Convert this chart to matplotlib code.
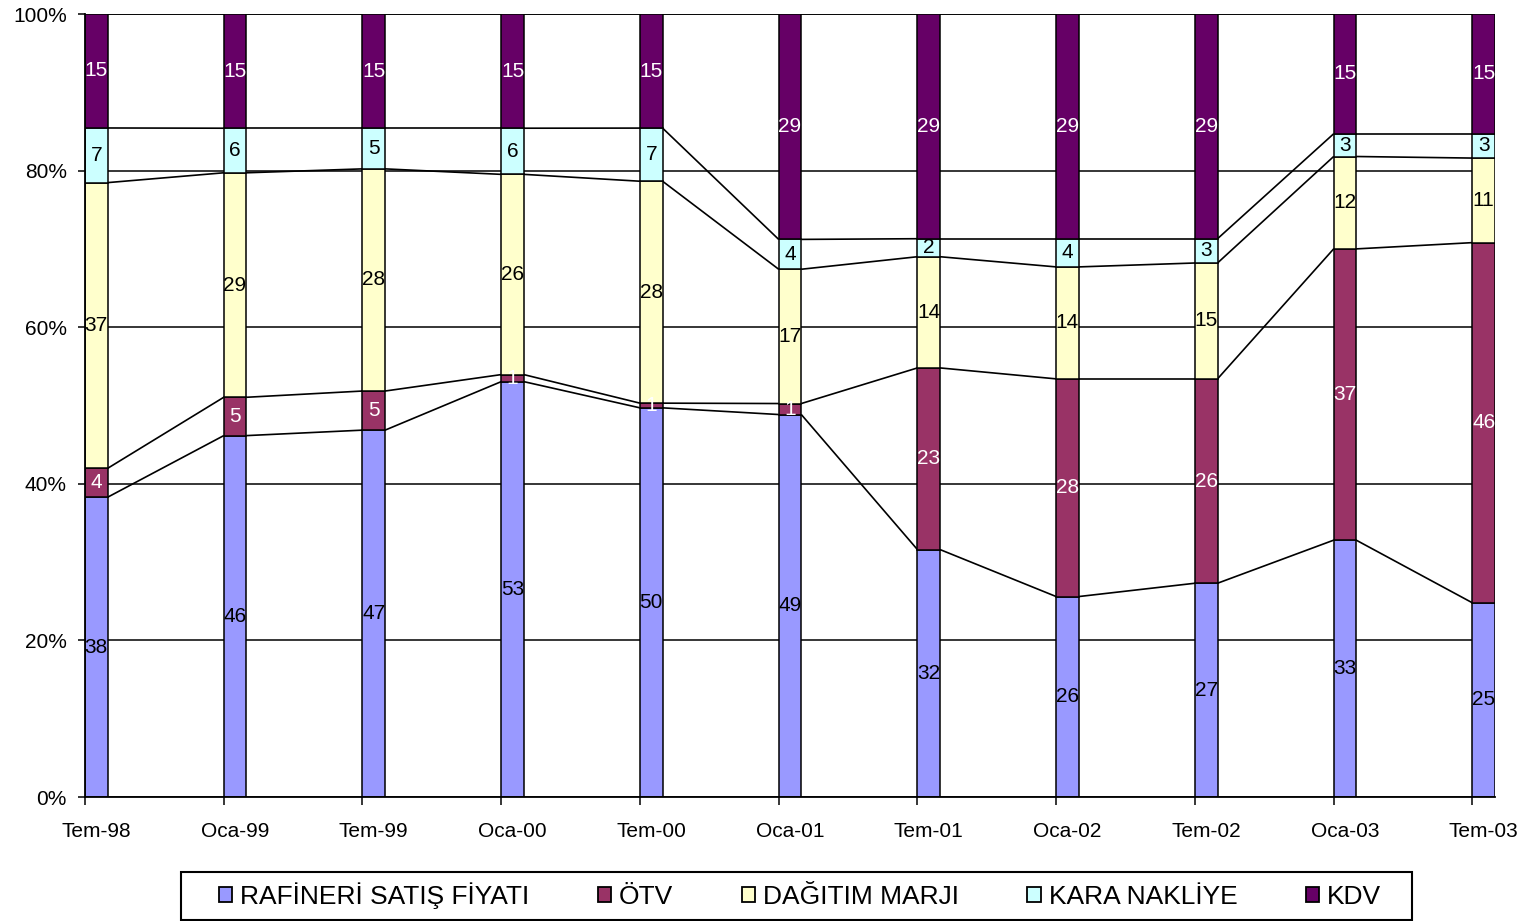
import numpy as np
import matplotlib
matplotlib.use("Agg")
import matplotlib.pyplot as plt
from matplotlib.patches import Rectangle
from matplotlib.ticker import FixedLocator, FuncFormatter

plt.rcParams['font.family'] = ['Liberation Sans', 'DejaVu Sans']

# ---- data ----
categories = ["Tem-98", "Oca-99", "Tem-99", "Oca-00", "Tem-00", "Oca-01",
              "Tem-01", "Oca-02", "Tem-02", "Oca-03", "Tem-03"]
series_names = ["RAFİNERİ SATIŞ FİYATI", "ÖTV", "DAĞITIM MARJI", "KARA NAKLİYE", "KDV"]
rafineri = [38.4, 46.2, 46.9, 53.1, 49.8, 48.7, 31.6, 25.6, 27.3, 32.8, 24.8]
otv      = [3.7, 4.9, 5.0, 0.9, 0.6, 1.4, 23.2, 27.8, 26.1, 37.2, 46.0]
dagitim  = [36.6, 28.7, 28.4, 25.6, 28.4, 17.1, 14.2, 14.3, 14.8, 11.8, 10.8]
kara     = [7.0, 5.7, 5.2, 5.9, 6.8, 3.8, 2.3, 3.6, 3.1, 2.9, 3.1]
kdv      = [14.6, 14.6, 14.6, 14.6, 14.6, 28.7, 28.7, 28.7, 28.7, 15.3, 15.3]

colors = ["#9999FF", "#993366", "#FFFFCC", "#CCFFFF", "#660066"]
label_colors = ["black", "white", "black", "black", "white"]

data = np.array([rafineri, otv, dagitim, kara, kdv], dtype=float)
totals = data.sum(axis=0)
shares = data / totals * 100.0

W, H = 1532, 921
fig = plt.figure(figsize=(W / 100, H / 100), dpi=100)
ax = fig.add_axes([85 / W, 1 - 797 / H, 1410 / W, 783 / H])

x = np.arange(len(categories))
w = 0.163

bottom = np.zeros(len(categories))
tops = []
for k in range(len(series_names)):
    ax.bar(x, shares[k], w, bottom=bottom, align='edge', color=colors[k],
           edgecolor='black', linewidth=1.1, zorder=3, label=series_names[k])
    for i in range(len(categories)):
        ax.text(x[i] + w / 2, bottom[i] + shares[k][i] / 2, f"{data[k][i]:.0f}",
                ha='center', va='center', fontsize=15, color=label_colors[k],
                zorder=5)
    bottom = bottom + shares[k]
    tops.append(bottom.copy())

# series lines
for lvl in tops:
    for i in range(len(categories) - 1):
        ax.plot([x[i] + w, x[i + 1]], [lvl[i], lvl[i + 1]], color='black',
                linewidth=1.2, zorder=2.5, solid_capstyle='butt')

ax.set_xlim(0, x[-1] + w)
ax.set_ylim(0, 100)

ax.set_yticks(np.arange(0, 101, 20))
ax.yaxis.set_major_formatter(FuncFormatter(lambda v, p: f"{int(v)}%"))
ax.yaxis.grid(True, color='black', linewidth=1.1, zorder=1)
ax.set_axisbelow(True)
ax.tick_params(axis='y', length=5, width=1.1, pad=8, labelsize=15, colors='black')

ax.xaxis.set_major_locator(FixedLocator(x))
ax.xaxis.set_minor_locator(FixedLocator(x + w / 2))
ax.set_xticklabels([""] * len(x))
ax.set_xticklabels(categories, minor=True)
ax.tick_params(axis='x', which='major', length=6, width=1.1, direction='out')
ax.tick_params(axis='x', which='minor', length=0, pad=18, labelsize=15)

for s in ['top', 'right']:
    ax.spines[s].set_visible(False)
for s in ['left', 'bottom']:
    ax.spines[s].set_linewidth(1.3)
    ax.spines[s].set_zorder(4)

# legend frame
fig.patches.append(Rectangle((181 / W, 1 - 920 / H), (1412 - 181) / W, 48 / H,
                             transform=fig.transFigure, facecolor='white',
                             edgecolor='black', linewidth=1.5, zorder=0))
handles = [Rectangle((0, 0), 1, 1, facecolor=c, edgecolor='black', linewidth=1.3)
           for c in colors]
leg = fig.legend(handles, series_names, loc='center',
                 bbox_to_anchor=(800 / W, 1 - 896 / H), ncol=5,
                 fontsize=19, frameon=False,
                 handlelength=0.5, handleheight=0.5,
                 handletextpad=0.3, columnspacing=2.6, borderpad=0.2,
                 borderaxespad=0)

fig.savefig("out.png", dpi=100)
